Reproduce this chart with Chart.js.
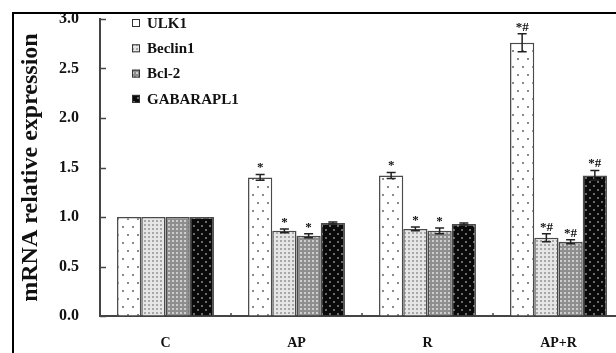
<!DOCTYPE html>
<html><head><meta charset="utf-8">
<script src="https://cdn.jsdelivr.net/npm/chart.js@4"></script>
<style>html,body{margin:0;padding:0;overflow:hidden;background:#fff;width:616px;height:353px}canvas{position:absolute;left:0;top:0}</style>
</head><body>
<canvas id="c" width="624" height="353"></canvas>
<script>
const categories = ['C', 'AP', 'R', 'AP+R'];
const seriesNames = ['ULK1', 'Beclin1', 'Bcl-2', 'GABARAPL1'];
const ulk1 = [1.00, 1.40, 1.42, 2.76];
const beclin1 = [1.00, 0.86, 0.88, 0.79];
const bcl2 = [1.00, 0.81, 0.86, 0.75];
const gabarapl1 = [1.00, 0.94, 0.93, 1.42];
const ulk1Err = [0, 0.03, 0.03, 0.09];
const beclin1Err = [0, 0.02, 0.02, 0.04];
const bcl2Err = [0, 0.02, 0.03, 0.02];
const gabarapl1Err = [0, 0.01, 0.01, 0.05];
const ulk1Marks = ['', '*', '*', '*#'];
const beclin1Marks = ['', '*', '*', '*#'];
const bcl2Marks = ['', '*', '*', '*#'];
const gabarapl1Marks = ['', '', '', '*#'];
const yTicks = [0, 0.5, 1.0, 1.5, 2.0, 2.5, 3.0];

function makePattern(w, h, bg, fg, dots, ds) {
  const p = document.createElement('canvas');
  p.width = w; p.height = h;
  const g = p.getContext('2d');
  g.fillStyle = bg; g.fillRect(0, 0, w, h);
  g.fillStyle = fg;
  dots.forEach(d => g.fillRect(d[0], d[1], ds, ds));
  return document.getElementById('c').getContext('2d').createPattern(p, 'repeat');
}
const patterns = [
  makePattern(10, 16, '#ffffff', '#8a8a8a', [[2, 2], [7, 10]], 2),
  makePattern(4, 4, '#e6e6e6', '#a8a8a8', [[0, 0]], 2),
  makePattern(4, 4, '#8e8e8e', '#cdcdcd', [[0, 0]], 2),
  makePattern(8, 8, '#0a0a0a', '#6a6a6a', [[1, 1], [5, 5]], 2)
];
const values = [ulk1, beclin1, bcl2, gabarapl1];
const errs = [ulk1Err, beclin1Err, bcl2Err, gabarapl1Err];
const marks = [ulk1Marks, beclin1Marks, bcl2Marks, gabarapl1Marks];

const serif = '"Liberation Serif", "Times New Roman", serif';

const extras = {
  id: 'extras',
  afterDatasetsDraw(chart) {
    const ctx = chart.ctx;
    const y = chart.scales.y, x = chart.scales.x;
    ctx.save();
    chart.data.datasets.forEach((ds, di) => {
      const meta = chart.getDatasetMeta(di);
      meta.data.forEach((bar, i) => {
        const e = errs[di][i];
        const v = values[di][i];
        const top = y.getPixelForValue(v + e);
        const bot = y.getPixelForValue(v - e);
        if (e > 0) {
          ctx.strokeStyle = '#222'; ctx.lineWidth = 1.5;
          ctx.beginPath();
          ctx.moveTo(bar.x, top); ctx.lineTo(bar.x, bot);
          ctx.moveTo(bar.x - 4.5, top); ctx.lineTo(bar.x + 4.5, top);
          ctx.moveTo(bar.x - 4.5, bot); ctx.lineTo(bar.x + 4.5, bot);
          ctx.stroke();
        }
        const m = marks[di][i];
        if (m) {
          ctx.fillStyle = '#111';
          ctx.font = 'bold 13px ' + serif;
          ctx.textAlign = 'center'; ctx.textBaseline = 'alphabetic';
          ctx.fillText(m, bar.x, top - 3);
        }
      });
    });
    ctx.strokeStyle = '#444'; ctx.lineWidth = 1.5;
    yTicks.forEach(t => {
      const py = Math.round(y.getPixelForValue(t)) + 0.5;
      ctx.beginPath(); ctx.moveTo(x.left, py); ctx.lineTo(x.left + 6, py); ctx.stroke();
    });
    for (let i = 0; i < categories.length - 1; i++) {
      const px = (x.getPixelForValue(i) + x.getPixelForValue(i + 1)) / 2;
      ctx.beginPath(); ctx.moveTo(px, y.bottom); ctx.lineTo(px, y.bottom - 3); ctx.stroke();
    }
    ctx.font = 'bold 15px ' + serif;
    ctx.textAlign = 'left'; ctx.textBaseline = 'middle';
    chart.data.datasets.forEach((ds, di) => {
      const cy = 23 + di * 25.3;
      ctx.fillStyle = patterns[di];
      ctx.fillRect(132, cy - 4, 8, 8);
      ctx.strokeStyle = '#333'; ctx.lineWidth = 1;
      ctx.strokeRect(132.5, cy - 3.5, 7, 7);
      ctx.fillStyle = '#111';
      ctx.fillText(ds.label, 147, cy + 1);
    });
    ctx.strokeStyle = '#000'; ctx.lineWidth = 2;
    ctx.beginPath();
    ctx.moveTo(13, 353); ctx.lineTo(13, 13); ctx.lineTo(624, 13);
    ctx.stroke();
    ctx.restore();
  }
};

new Chart(document.getElementById('c'), {
  type: 'bar',
  data: {
    labels: categories,
    datasets: seriesNames.map((n, i) => ({
      label: n,
      data: values[i],
      backgroundColor: patterns[i],
      borderColor: '#4a4a4a',
      borderWidth: 1.5,
      categoryPercentage: 0.74,
      barPercentage: 1.0
    }))
  },
  options: {
    responsive: false,
    animation: false,
    devicePixelRatio: 1,
    layout: { padding: { top: 19, left: 0, right: 0, bottom: 0 } },
    plugins: { legend: { display: false }, tooltip: { enabled: false } },
    scales: {
      x: {
        grid: { display: false, drawTicks: false },
        border: { display: true, color: '#444', width: 2 },
        ticks: { color: '#111', font: { family: serif, size: 14, weight: 'bold' }, padding: 19 },
        afterFit(s) { s.height = 37; }
      },
      y: {
        min: 0, max: 3.0,
        afterBuildTicks(s) { s.ticks = yTicks.map(v => ({ value: v })); },
        grid: { display: true, drawOnChartArea: false, drawTicks: true, tickLength: 21, color: 'rgba(0,0,0,0)' },
        border: { display: true, color: '#444', width: 2 },
        ticks: { color: '#111', font: { family: serif, size: 16, weight: 'bold' }, padding: 0,
                 callback: v => Number(v).toFixed(1) },
        title: { display: true, text: 'mRNA relative expression', color: '#111',
                 font: { family: serif, size: 24, weight: 'bold' }, padding: { top: 16, bottom: 0 } },
        afterFit(s) { s.width = 100; }
      }
    }
  },
  plugins: [extras]
});
</script>
</body></html>
